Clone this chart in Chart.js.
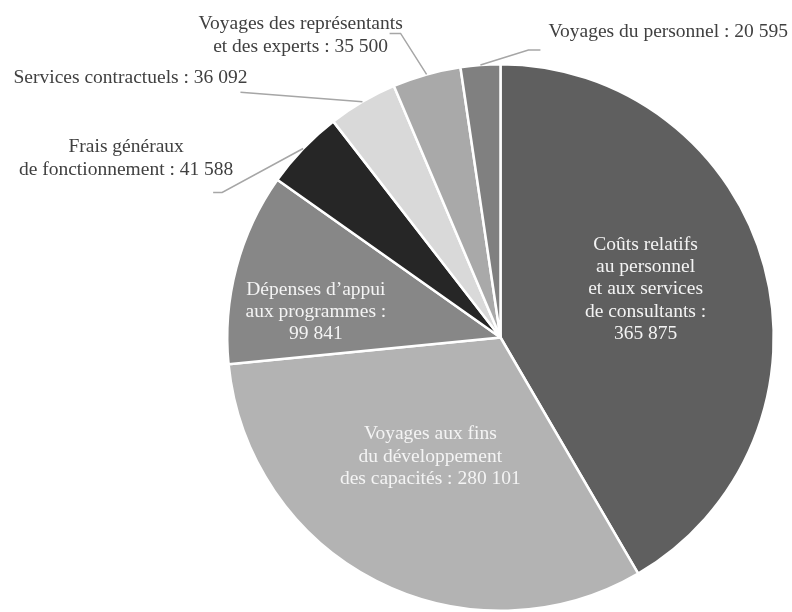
<!DOCTYPE html>
<html>
<head>
<meta charset="utf-8">
<script src="https://cdn.jsdelivr.net/npm/chart.js@4/dist/chart.umd.min.js"></script>
<style>
  html, body { margin: 0; padding: 0; background: #fff; }
  #wrap { width: 792px; height: 612px; }
</style>
</head>
<body>
<div id="wrap"><canvas id="pieChart" width="792" height="612"></canvas></div>
<script>
// data
const categories = [
    'Coûts relatifs\nau personnel\net aux services\nde consultants',
    'Voyages aux fins\ndu développement\ndes capacités',
    'Dépenses d\u2019appui\naux programmes',
    'Frais généraux\nde fonctionnement',
    'Services contractuels',
    'Voyages des représentants\net des experts',
    'Voyages du personnel'
];
const values = [365875, 280101, 99841, 41588, 36092, 35500, 20595];
const colors = ['#5f5f5f', '#b3b3b3', '#878787', '#262626', '#d9d9d9', '#a9a9a9', '#808080'];

// label placement (inside: polar offset, outside: leader line + text offsets from arc edge)
const labelLayout = [
    { inside: true, r: 0.55, dx: 0, dy: -9, sep: ' :\n' },
    { inside: true, r: 0.5, dx: -8, dy: -2.5, sep: ' : ' },
    { inside: true, r: 0.68, dx: -5, dy: 22, sep: ' :\n' },
    { inside: false, elbow: [-81, 44], end: [-90, 44], text: [-177, 9.5], align: 'center', sep: ' : ' },
    { inside: false, elbow: [-122, -9.5], end: [-122, -9.5], text: [-115, -23.5], align: 'right', sep: ' : ' },
    { inside: false, elbow: [-26, -41], end: [-37, -41], text: [-126, -39.5], align: 'center', sep: ' : ' },
    { inside: false, elbow: [48, -15], end: [60, -15], text: [68, -33.5], align: 'left', sep: ' : ' }
];

function fmt(n) {
    return String(n).replace(/\B(?=(\d{3})+(?!\d))/g, ' ');
}

const pieLabels = {
    id: 'pieLabels',
    afterDatasetsDraw(chart) {
        const ctx = chart.ctx;
        const arcs = chart.getDatasetMeta(0).data;
        ctx.save();
        ctx.font = '19.5px "Liberation Serif", "Times New Roman", serif';
        ctx.textBaseline = 'middle';
        arcs.forEach(function (arc, i) {
            const p = arc.getProps(['x', 'y', 'startAngle', 'endAngle', 'outerRadius'], true);
            const mid = (p.startAngle + p.endAngle) / 2;
            const lay = labelLayout[i];
            const lines = (categories[i] + lay.sep + fmt(values[i])).split('\n');
            let tx, ty, lh;
            if (lay.inside) {
                tx = p.x + Math.cos(mid) * p.outerRadius * lay.r + lay.dx;
                ty = p.y + Math.sin(mid) * p.outerRadius * lay.r + lay.dy;
                ctx.fillStyle = '#f4f4f4';
                ctx.textAlign = 'center';
                lh = 22.3;
            } else {
                const ex = p.x + Math.cos(mid) * p.outerRadius;
                const ey = p.y + Math.sin(mid) * p.outerRadius;
                ctx.strokeStyle = '#a6a6a6';
                ctx.lineWidth = 1.5;
                ctx.beginPath();
                ctx.moveTo(ex, ey);
                ctx.lineTo(ex + lay.elbow[0], ey + lay.elbow[1]);
                ctx.lineTo(ex + lay.end[0], ey + lay.end[1]);
                ctx.stroke();
                tx = ex + lay.text[0];
                ty = ey + lay.text[1];
                ctx.fillStyle = '#404040';
                ctx.textAlign = lay.align;
                lh = 23;
            }
            const y0 = ty - (lines.length - 1) * lh / 2;
            lines.forEach(function (line, k) {
                ctx.fillText(line, tx, y0 + k * lh);
            });
        });
        ctx.restore();
    }
};

const ctx = document.getElementById('pieChart').getContext('2d');
new Chart(ctx, {
    type: 'pie',
    data: {
        labels: categories,
        datasets: [{
            data: values,
            backgroundColor: colors,
            borderColor: '#ffffff',
            borderWidth: 2.5
        }]
    },
    options: {
        responsive: false,
        animation: false,
        layout: {
            padding: { top: 63, bottom: 0, left: 226, right: 17 }
        },
        plugins: {
            legend: { display: false },
            tooltip: { enabled: false }
        }
    },
    plugins: [pieLabels]
});
</script>
</body>
</html>
